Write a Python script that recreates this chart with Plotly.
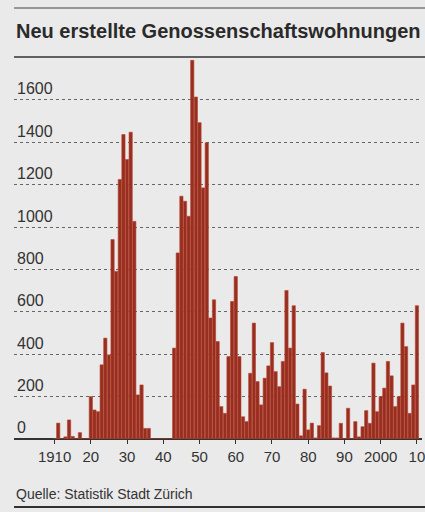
import plotly.graph_objects as go

title_text = "Neu erstellte Genossenschaftswohnungen"
source_text = "Quelle: Statistik Stadt Zürich"

years = list(range(1910, 2011))
values = [
    0, 75, 0, 10, 90, 12, 0, 30, 0, 0,            # 1910-1919
    200, 137, 129, 350, 476, 397, 941, 791, 1225, 1437,  # 1920-1929
    1319, 1448, 1027, 208, 255, 50, 50, 0, 0, 0,  # 1930-1939
    0, 0, 0, 429, 878, 1146, 1122, 1051, 1787, 1614,  # 1940-1949
    1493, 1185, 1398, 571, 657, 460, 153, 121, 389, 649,  # 1950-1959
    767, 389, 105, 82, 310, 547, 271, 161, 287, 345,  # 1960-1969
    455, 318, 247, 366, 701, 429, 629, 165, 15, 235,  # 1970-1979
    43, 75, 5, 63, 408, 312, 250, 5, 5, 74,       # 1980-1989
    0, 145, 0, 82, 10, 58, 134, 74, 358, 129,     # 1990-1999
    200, 240, 366, 298, 153, 200, 547, 436, 121, 255,  # 2000-2009
    629,                                          # 2010
]

x_tickvals = [1910, 1920, 1930, 1940, 1950, 1960, 1970, 1980, 1990, 2000, 2010]
x_ticktext = ["1910", "20", "30", "40", "50", "60", "70", "80", "90", "2000", "10"]
y_tickvals = [0, 200, 400, 600, 800, 1000, 1200, 1400, 1600]

BG = "#eaeaea"
TXT = "#333333"

W, H = 425, 512
ML, MR, MT, MB = 14, 0, 58, 73
plot_h = H - MT - MB


def py(pix):
    """Convert a pixel row of the page into a paper fraction."""
    return (H - MB - pix) / plot_h


fig = go.Figure(
    go.Bar(
        x=years,
        y=values,
        marker=dict(color="#972e22", line=dict(color="#b8452d", width=0.6)),
        width=0.9,
        hoverinfo="x+y",
    )
)

fig.update_layout(
    width=W,
    height=H,
    margin=dict(l=ML, r=MR, t=MT, b=MB),
    paper_bgcolor=BG,
    plot_bgcolor=BG,
    showlegend=False,
    font=dict(family="Liberation Sans, Arial, sans-serif", color=TXT),
    xaxis=dict(
        range=[1898.8, 2011.4],
        tickvals=x_tickvals,
        ticktext=x_ticktext,
        ticks="outside",
        ticklen=4,
        tickcolor="#333",
        tickfont=dict(size=15, color=TXT),
        ticklabeloverflow="allow",
        showgrid=False,
        zeroline=False,
        showline=False,
    ),
    yaxis=dict(
        range=[0, 1798],
        tickvals=y_tickvals,
        ticks="",
        ticklabelposition="inside top",
        tickfont=dict(size=16, color=TXT),
        showgrid=True,
        gridcolor="#666666",
        griddash="dot",
        gridwidth=1,
        zeroline=True,
        zerolinecolor="#333333",
        zerolinewidth=1.5,
        showline=False,
    ),
    annotations=[
        dict(text="<b>" + title_text + "</b>", xref="paper", yref="paper",
             x=0.0, y=py(31), xanchor="left", yanchor="middle",
             showarrow=False, font=dict(size=20, color="#2a2a2a")),
        dict(text=source_text, xref="paper", yref="paper",
             x=0.0, y=py(494), xanchor="left", yanchor="middle",
             showarrow=False, font=dict(size=14, color=TXT)),
    ],
)

fig.add_shape(type="line", xref="paper", yref="paper", x0=0, x1=1.05, y0=py(8), y1=py(8),
              line=dict(color="#444", width=1))
fig.add_shape(type="line", xref="paper", yref="paper", x0=0, x1=1.05, y0=py(57), y1=py(57),
              line=dict(color="#333", width=1.5))
fig.add_shape(type="line", xref="paper", yref="paper", x0=0, x1=1.05, y0=py(507), y1=py(507),
              line=dict(color="#333", width=2))

fig.write_html("out.html", config={"displayModeBar": False},
               post_script="document.body.style.margin='0';")
